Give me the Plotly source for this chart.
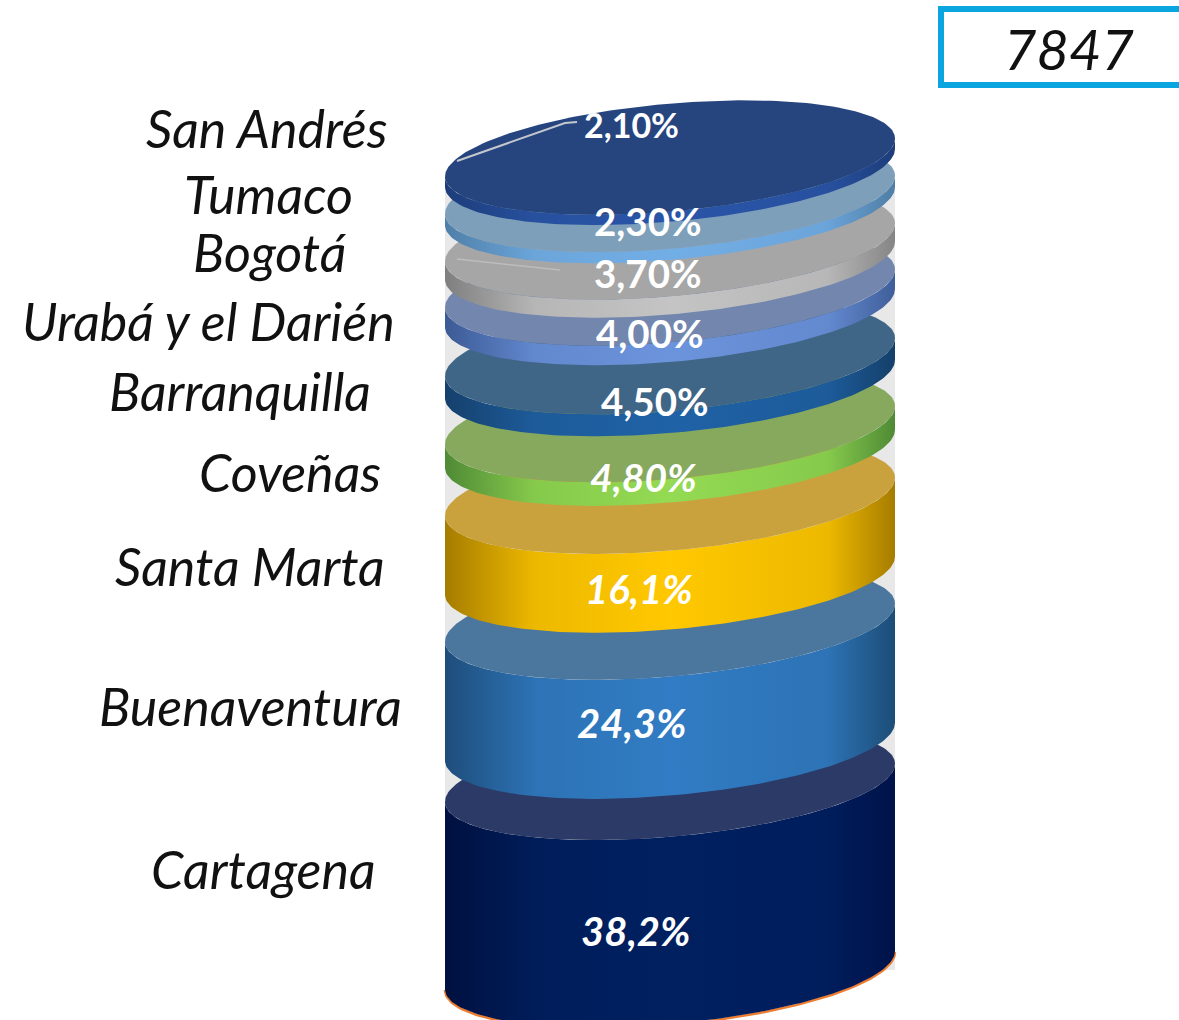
import numpy as np
import plotly.graph_objects as go

W, H = 1179, 1020

# Data, bottom of the stack first
categories = ["Cartagena", "Buenaventura", "Santa Marta", "Coveñas", "Barranquilla",
              "Urabá y el Darién", "Bogotá", "Tumaco", "San Andrés"]
values = [38.2, 24.3, 16.1, 4.8, 4.5, 4.0, 3.7, 2.3, 2.1]
value_labels = ["38,2%", "24,3%", "16,1%", "4,80%", "4,50%", "4,00%", "3,70%", "2,30%", "2,10%"]
gaps_below = [0, 8.4, 9.6, 9.8, 9.4, 10.0, 5.7, 7.4, 5.5]   # exploded spacing, same unit as values
total_label = "7847"

# Style
face_colors = ["#2B3A66", "#4B769E", "#C9A23E", "#86A95E", "#3F6587",
               "#7286AE", "#A6A6A6", "#7D9FBA", "#26457F"]
side_colors = [("#001040", "#002060", "#00134A"), ("#1E4D7B", "#317CC4", "#1C4D77"),
               ("#A67C00", "#FFC800", "#A67C00"), ("#4F8A35", "#94DA52", "#4F8A35"),
               ("#15406C", "#1F62A6", "#14406A"), ("#3C5A95", "#6C94DC", "#3F5F9A"),
               ("#7F7F7F", "#C4C4C4", "#858585"), ("#4F7FA8", "#72AEE6", "#4F7EA5"),
               ("#1D3D7A", "#2A55A8", "#1D3D7A")]

# Geometry of the picture: one value unit in pixels, disc radii in pixels
UNIT = 4.9
BASE_PX = 970
CX, RX = 670, 225
B_PX, K_PX = 54, 19

# Label placement (pixel centres) and sizes, bottom of the stack first
cat_pos = [(263, 869), (251, 706), (250, 566), (290, 472), (240, 391),
           (208, 321), (270, 252), (268, 194), (267, 128)]
val_pos = [(635, 931), (631, 723), (639, 589), (643, 477), (655, 401),
           (650, 333), (648, 273), (648, 221), (631, 124)]
val_size = [40, 40, 40, 39, 38.5, 38.5, 38.5, 38.5, 34]
val_italic = [True, True, True, True, False, False, False, False, False]

b, k = B_PX / UNIT, K_PX / UNIT
t_front = np.linspace(0, np.pi, 120)
t_full = np.linspace(0, 2 * np.pi, 240)


def ell(c, t):
    return np.cos(t), c + k * np.cos(t) - b * np.sin(t)


def pf(px, py):
    return px / W, 1 - py / H


def mix(a, c, f):
    ca = [int(a[i:i + 2], 16) for i in (1, 3, 5)]
    cc = [int(c[i:i + 2], 16) for i in (1, 3, 5)]
    return "#" + "".join(f"{round(x + (y - x) * f):02X}" for x, y in zip(ca, cc))


fig = go.Figure()

# Segment bases and tops along the value axis
bases, tops = [], []
level = 0
for v, g in zip(values, gaps_below):
    level += g
    bases.append(level)
    level += v
    tops.append(level)

# Pale column behind the discs
col_top = tops[-1] - k
fig.add_trace(go.Scatter(x=[-1, 1, 1, -1], y=[bases[0], bases[0], col_top, col_top],
                         fill="toself", fillcolor="#E8E8E8", mode="lines",
                         line=dict(width=0), hoverinfo="skip"))

# Thin orange rim under the cylinder
xr, yr = ell(bases[0] - 0.2, t_front)
fig.add_trace(go.Scatter(x=xr, y=yr, mode="lines", line=dict(color="#ED7D31", width=2.5),
                         hoverinfo="skip"))

for i, name in enumerate(categories):
    xb, yb = ell(bases[i], t_front)
    xt, yt = ell(tops[i], t_front[::-1])
    c0, c1, c2 = side_colors[i]
    scale = [[0, c0], [0.2, mix(c0, c1, 0.8)], [0.5, c1], [0.85, mix(c2, c1, 0.8)], [1, c2]]
    fig.add_trace(go.Scatter(
        x=np.r_[xb, xt], y=np.r_[yb, yt], mode="lines", line=dict(width=0), fill="toself",
        fillgradient=dict(type="horizontal", colorscale=scale),
        name=name, hoverinfo="skip"))
    xf, yf = ell(tops[i], t_full)
    fig.add_trace(go.Scatter(x=xf, y=yf, mode="lines", line=dict(width=0), fill="toself",
                             fillcolor=face_colors[i], name=name, hoverinfo="skip"))

ann = []
for name, (px, py) in zip(categories, cat_pos):
    ax, ay = pf(px, py)
    ann.append(dict(x=ax, y=ay, xref="paper", yref="paper", text=f"<i>{name}</i>",
                    showarrow=False, xanchor="center", yanchor="middle",
                    font=dict(family="Lato", size=52, color="#111111")))
for lab, (px, py), sz, it in zip(value_labels, val_pos, val_size, val_italic):
    ax, ay = pf(px, py)
    txt = f"<b>{lab}</b>"
    if it:
        txt = f"<i>{txt}</i>"
    ann.append(dict(x=ax, y=ay, xref="paper", yref="paper", text=txt, showarrow=False,
                    xanchor="center", yanchor="middle",
                    font=dict(family="Lato", size=sz, color="white")))
ax, ay = pf(1069, 48)
ann.append(dict(x=ax, y=ay, xref="paper", yref="paper", text=f"<i>{total_label}</i>",
                showarrow=False, xanchor="center", yanchor="middle",
                font=dict(family="Lato", size=56, color="#111111")))


def path(points):
    return "M " + " L ".join(f"{x / W:.5f},{1 - y / H:.5f}" for x, y in points)


shapes = [
    dict(type="rect", xref="paper", yref="paper", x0=941 / W, x1=1200 / W, y0=1 - 85 / H, y1=1 - 9 / H,
         line=dict(color="#0BA5E0", width=6), fillcolor="white", layer="above"),
    dict(type="path", xref="paper", yref="paper", path=path([(457, 161), (565, 123), (577, 122)]),
         line=dict(color="#C4C8CE", width=2), layer="above"),
    dict(type="path", xref="paper", yref="paper", path=path([(457, 259), (560, 270)]),
         line=dict(color="#BDBDBD", width=1.5), layer="above"),
]

fig.update_layout(
    width=W, height=H, margin=dict(l=0, r=0, t=0, b=0),
    paper_bgcolor="white", plot_bgcolor="white", showlegend=False,
    xaxis=dict(visible=False, range=[-CX / RX, (W - CX) / RX]),
    yaxis=dict(visible=False, range=[(BASE_PX - H) / UNIT, BASE_PX / UNIT]),
    annotations=ann, shapes=shapes,
)
fig.write_html("out.html", config={"displayModeBar": False},
               post_script="document.body.style.margin='0';")
